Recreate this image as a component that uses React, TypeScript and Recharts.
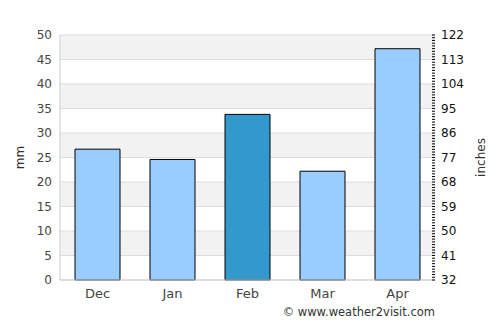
import { ComposedChart, Bar, Line, Cell, XAxis, YAxis, CartesianGrid } from "recharts";

// --- Data ---
const months = ["Dec", "Jan", "Feb", "Mar", "Apr"];
const rainfallMm = [26.7, 24.6, 33.8, 22.2, 47.2];
const highlightMonth = "Feb";
const mmTicks = [0, 5, 10, 15, 20, 25, 30, 35, 40, 45, 50];
const rightTicks = [32, 41, 50, 59, 68, 77, 86, 95, 104, 113, 122];
const rightMinorTicks = Array.from({ length: 91 }, (_, i) => 32 + i);

const BAR_FILL = "#99ccff";
const BAR_HIGHLIGHT = "#3399cc";
const FONT = "'DejaVu Sans', sans-serif";

const data = months.map((m, i) => ({ month: m, rain: rainfallMm[i] }));

// right axis: every unit gets a little tick, labels only on the major ones
const RightTick = (props: any) => {
  const { x, y, payload } = props;
  const isMajor = rightTicks.includes(payload.value);
  return (
    <g>
      <line x1={x - 9} x2={x - 6} y1={y} y2={y} stroke="#000" strokeWidth={1} />
      {isMajor && (
        <text x={x} y={y} dy={4} fontSize={12} fontFamily={FONT} fill="#111" textAnchor="start">
          {payload.value}
        </text>
      )}
    </g>
  );
};

const SideLabel = ({ viewBox, value, cx }: any) => {
  const cy = viewBox.y + viewBox.height / 2;
  return (
    <text
      x={cx}
      y={cy}
      transform={`rotate(-90 ${cx} ${cy})`}
      textAnchor="middle"
      dominantBaseline="central"
      fontSize={12}
      fontFamily={FONT}
      fill="#333"
    >
      {value}
    </text>
  );
};

export default function App() {
  return (
    <div style={{ position: "fixed", left: 0, top: 0, width: 500, height: 325, background: "#fff" }}>
      <ComposedChart width={500} height={325} data={data} margin={{ top: 35, right: 0, left: 0, bottom: 0 }}>
        <CartesianGrid
          vertical={false}
          stroke="#dddddd"
          horizontalFill={["#f2f2f2", "#ffffff"]}
          fillOpacity={1}
          yAxisId="mm"
        />
        <XAxis
          dataKey="month"
          height={45}
          tickLine={false}
          tickSize={0}
          tickMargin={9}
          axisLine={{ stroke: "#cccccc" }}
          tick={{ fill: "#444", fontSize: 13, fontFamily: FONT }}
        />
        <YAxis
          yAxisId="mm"
          width={60}
          domain={[0, 50]}
          ticks={mmTicks}
          interval={0}
          tickLine={false}
          tickSize={0}
          tickMargin={8}
          axisLine={{ stroke: "#cccccc" }}
          tick={{ fill: "#444", fontSize: 12, fontFamily: FONT }}
          label={{ value: "mm", content: (p: any) => <SideLabel {...p} cx={20} /> }}
        />
        <YAxis
          yAxisId="in"
          orientation="right"
          width={65}
          type="number"
          domain={[32, 122]}
          allowDataOverflow
          ticks={rightMinorTicks}
          interval={0}
          tickLine={false}
          tickSize={0}
          tickMargin={6}
          axisLine={false}
          tick={<RightTick />}
          label={{ value: "inches", content: (p: any) => <SideLabel {...p} cx={481} /> }}
        />
        <Bar yAxisId="mm" dataKey="rain" barSize={45} stroke="#000" strokeWidth={1} isAnimationActive={false}>
          {data.map((d) => (
            <Cell key={d.month} fill={d.month === highlightMonth ? BAR_HIGHLIGHT : BAR_FILL} />
          ))}
        </Bar>
        {/* invisible series so the right axis gets drawn */}
        <Line
          yAxisId="in"
          dataKey="rain"
          stroke="none"
          dot={false}
          activeDot={false}
          legendType="none"
          isAnimationActive={false}
        />
      </ComposedChart>
      <div
        style={{
          position: "absolute",
          right: 65,
          top: 305,
          fontSize: 11.5,
          fontFamily: FONT,
          color: "#333",
          whiteSpace: "nowrap",
        }}
      >
        © www.weather2visit.com
      </div>
    </div>
  );
}
